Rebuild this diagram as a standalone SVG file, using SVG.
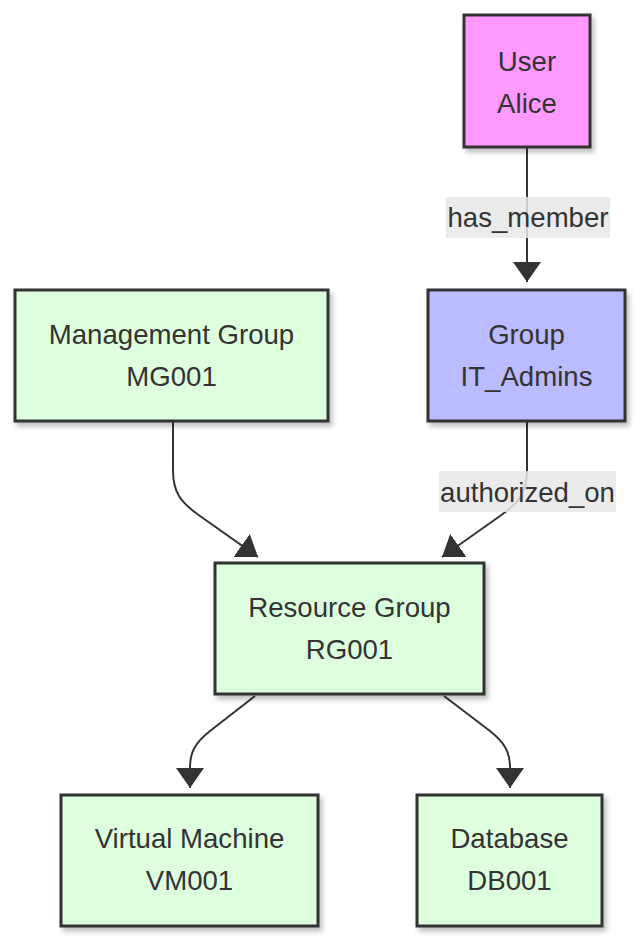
<svg xmlns="http://www.w3.org/2000/svg" width="642" height="949" viewBox="0 0 642 949">
<style>
.node rect{stroke:#333;stroke-width:3;filter:url(#sh)}
.t{font-family:"Liberation Sans",Arial,sans-serif;font-size:27.6px;fill:#333;text-anchor:middle}
.e{fill:none;stroke:#333;stroke-width:2}
.lb{fill:#e8e8e8;opacity:0.85}
.green{fill:#ddffdd}
</style>
<defs>
<filter id="sh" x="-10%" y="-10%" width="130%" height="130%">
<feDropShadow dx="3" dy="4" stdDeviation="2.5" flood-color="#000" flood-opacity="0.25"/>
</filter>
<marker id="ah" viewBox="0 0 20 28" refX="20" refY="14" markerUnits="userSpaceOnUse" markerWidth="20" markerHeight="28" orient="auto">
<path d="M0,0 L20,14 L0,28 z" fill="#333"/>
</marker>
</defs>
<rect width="642" height="949" fill="#fff"/>
<g id="connectors">
<path class="e" d="M527,147 L527,282" marker-end="url(#ah)"/>
<path class="e" d="M173,421 L173,470 C173,492 180,502 200,516 L258,557" marker-end="url(#ah)"/>
<path class="e" d="M527,421 L527,470 C527,492 520,502 500,516 L442,557" marker-end="url(#ah)"/>
<path class="e" d="M255,696 L210,731 C195,743 190,752 190,768 L190,788" marker-end="url(#ah)"/>
<path class="e" d="M444,696 L490,731 C505,743 510,752 510,768 L510,788" marker-end="url(#ah)"/>
<g id="label-has_member">
<rect class="lb" x="446" y="197" width="164" height="41"/>
<text class="t" x="528" y="226.5">has_member</text>
</g>
<g id="label-authorized_on">
<rect class="lb" x="439" y="471" width="177" height="41"/>
<text class="t" x="527.5" y="501.5">authorized_on</text>
</g>
</g>
<g id="user" class="node">
<rect x="464" y="15" width="126" height="132" fill="#ff99ff"/>
<text class="t" x="527" y="70.5">User</text>
<text class="t" x="527" y="112.5">Alice</text>
</g>
<g id="group" class="node">
<rect x="428" y="290" width="197" height="131" fill="#bbbbff"/>
<text class="t" x="526.5" y="343.5">Group</text>
<text class="t" x="526.5" y="385.5">IT_Admins</text>
</g>
<g id="mg" class="node">
<rect class="green" x="15" y="290" width="313" height="131"/>
<text class="t" x="171.5" y="343.5">Management Group</text>
<text class="t" x="171.5" y="385.5">MG001</text>
</g>
<g id="rg" class="node">
<rect class="green" x="215" y="563" width="269" height="131"/>
<text class="t" x="349.5" y="616.5">Resource Group</text>
<text class="t" x="349.5" y="658.5">RG001</text>
</g>
<g id="vm" class="node">
<rect class="green" x="61" y="795" width="257" height="131"/>
<text class="t" x="189.5" y="847.5">Virtual Machine</text>
<text class="t" x="189.5" y="889.5">VM001</text>
</g>
<g id="db" class="node">
<rect class="green" x="417" y="795" width="185" height="131"/>
<text class="t" x="509.5" y="847.5">Database</text>
<text class="t" x="509.5" y="889.5">DB001</text>
</g>
</svg>
